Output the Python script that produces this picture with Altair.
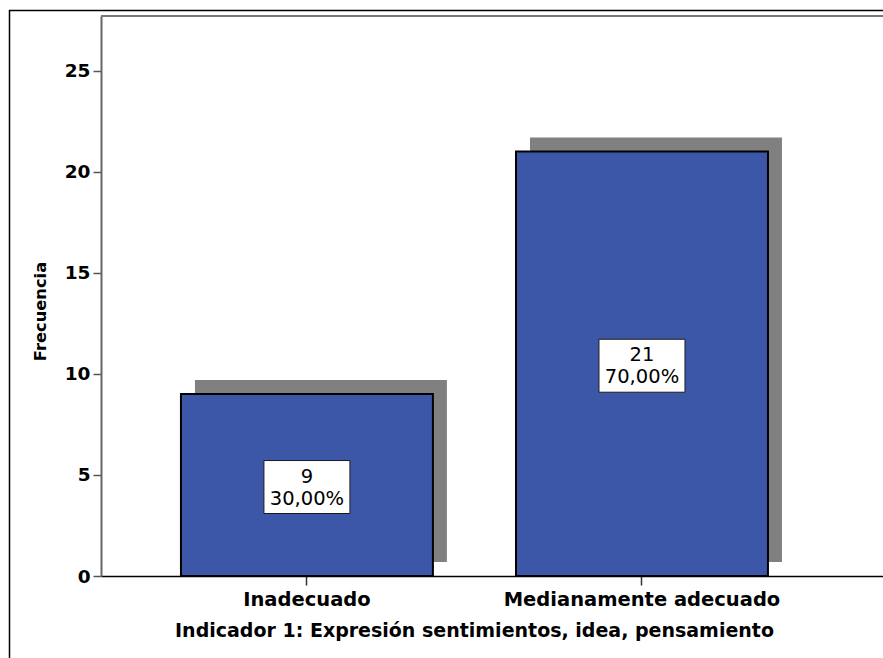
import altair as alt
import pandas as pd

# Frequency table for "Indicador 1"
categories = ["Inadecuado", "Medianamente adecuado"]
counts = [9, 21]
percents = [30.0, 70.0]

labels = [
    f"{n}\n{p:.2f}%".replace(".", ",") for n, p in zip(counts, percents)
]
df = pd.DataFrame({"cat": categories, "freq": counts, "label": labels})

FONT = "DejaVu Sans"
BLUE = "#3d57a8"
SHADOW = "#808080"
W, H = 782, 560

x_scale = alt.Scale(
    domain=categories, paddingInner=0.248, paddingOuter=0.291, align=0.41
)
y_scale = alt.Scale(domain=[0, 27.7], nice=False, zero=True)

x_enc = alt.X(
    "cat:N",
    scale=x_scale,
    sort=categories,
    axis=alt.Axis(
        title="Indicador 1: Expresión sentimientos, idea, pensamiento",
        labelAngle=0,
        labelLimit=0,
        labelFont=FONT,
        labelFontSize=19.5,
        labelFontWeight="bold",
        labelColor="black",
        labelPadding=5,
        titleFont=FONT,
        titleFontSize=19,
        titleFontWeight="bold",
        titleColor="black",
        titlePadding=13,
        titleX=373,
        domainColor="black",
        domainWidth=1.5,
        tickColor="#333333",
        tickWidth=1.5,
        tickSize=9,
    ),
)
y_enc = alt.Y(
    "freq:Q",
    scale=y_scale,
    axis=alt.Axis(
        title="Frecuencia",
        values=[0, 5, 10, 15, 20, 25],
        grid=False,
        labelFont=FONT,
        labelFontSize=18.5,
        labelFontWeight="bold",
        labelColor="black",
        labelPadding=3,
        titleFont=FONT,
        titleFontSize=16.3,
        titleFontWeight="bold",
        titleColor="black",
        titleAngle=270,
        titleX=-61,
        titleY=295,
        titleAlign="center",
        titleBaseline="middle",
        domainColor="#666666",
        domainWidth=2,
        tickColor="#555555",
        tickWidth=1.5,
        tickSize=8,
    ),
)

base = alt.Chart(df)

# Drop shadow behind each bar
shadow = base.mark_bar(
    color=SHADOW, xOffset=14, x2Offset=14, yOffset=-14, y2Offset=-14
).encode(x=x_enc, y=y_enc)

bars = base.mark_bar(color=BLUE, stroke="black", strokeWidth=2).encode(
    x=x_enc, y=y_enc
)

# White label boxes centred at half the bar height
box_path = "M-1,-0.616H1V0.616H-1Z"
boxes = (
    base.transform_calculate(mid="datum.freq / 2")
    .mark_point(
        shape=box_path,
        size=86 * 86,
        filled=True,
        fill="white",
        stroke="#1a1a1a",
        strokeWidth=1,
        opacity=1,
        yOffset=2,
    )
    .encode(
        x=alt.X("cat:N", scale=x_scale, sort=categories),
        y=alt.Y("mid:Q", scale=y_scale),
    )
)

texts = (
    base.transform_calculate(mid="datum.freq / 2")
    .mark_text(
        lineBreak="\n",
        font=FONT,
        fontSize=19.5,
        lineHeight=22,
        color="black",
        baseline="middle",
        align="center",
        yOffset=-8.5,
    )
    .encode(
        x=alt.X("cat:N", scale=x_scale, sort=categories),
        y=alt.Y("mid:Q", scale=y_scale),
        text="label:N",
    )
)

one = alt.Chart(pd.DataFrame({"k": [0]}))

# Plot frame top edge
top_edge = one.mark_rule(color="#777777", strokeWidth=2).encode(
    x=alt.value(0), x2=alt.value(W), y=alt.value(0)
)
# Outer figure border (top and left)
outer_top = one.mark_rule(color="black", strokeWidth=1.5).encode(
    x=alt.value(-92), x2=alt.value(W), y=alt.value(-5.5)
)
outer_left = one.mark_rule(color="black", strokeWidth=1.5).encode(
    x=alt.value(-91.5), y=alt.value(-6), y2=alt.value(H + 82)
)

chart = (
    alt.layer(shadow, bars, boxes, texts, top_edge, outer_top, outer_left)
    .properties(
        width=W,
        height=H,
        padding={"left": 101, "top": 16, "right": 0, "bottom": 82},
        autosize="none",
        background="white",
    )
    .configure_view(strokeWidth=0)
)

chart.save("out.html", embed_options={"renderer": "svg", "actions": False})
